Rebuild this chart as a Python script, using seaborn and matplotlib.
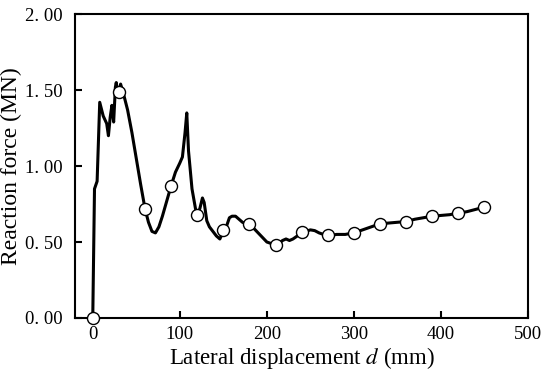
import numpy as np
import pandas as pd
import matplotlib
matplotlib.use("Agg")
import matplotlib.pyplot as plt
import seaborn as sns

# curve (mm, MN)
disp = [0, 2, 5, 8, 12, 16, 18, 20, 22, 24, 26, 27, 28, 30, 32, 36, 40, 45, 50,
        55, 60, 64, 68, 72, 76, 80, 85, 90, 95, 100, 103, 106, 108, 110, 114,
        118, 120, 123, 126, 128, 131, 134, 138, 142, 146, 150, 154, 157, 160,
        164, 168, 172, 176, 180, 185, 190, 195, 200, 205, 210, 214, 218, 222,
        226, 230, 235, 240, 245, 250, 255, 260, 265, 270, 275, 280, 285, 290,
        295, 300, 310, 320, 330, 340, 350, 360, 370, 380, 390, 400, 410, 420,
        430, 440, 450]
force = [0.0, 0.85, 0.90, 1.42, 1.33, 1.28, 1.20, 1.32, 1.40, 1.29, 1.52, 1.55,
         1.50, 1.49, 1.54, 1.46, 1.37, 1.22, 1.05, 0.88, 0.72, 0.63, 0.57, 0.56,
         0.60, 0.67, 0.77, 0.87, 0.96, 1.02, 1.06, 1.22, 1.35, 1.10, 0.85, 0.72,
         0.68, 0.72, 0.79, 0.76, 0.64, 0.60, 0.57, 0.54, 0.52, 0.57, 0.61, 0.66,
         0.67, 0.67, 0.65, 0.63, 0.62, 0.62, 0.59, 0.56, 0.53, 0.50, 0.49, 0.48,
         0.49, 0.51, 0.52, 0.51, 0.52, 0.54, 0.56, 0.57, 0.58, 0.575, 0.56, 0.55,
         0.545, 0.545, 0.55, 0.55, 0.55, 0.555, 0.56, 0.58, 0.60, 0.62, 0.625,
         0.63, 0.635, 0.65, 0.66, 0.67, 0.675, 0.68, 0.69, 0.70, 0.715, 0.73]

# circle markers every 30 mm
mark_disp = [0, 30, 60, 90, 120, 150, 180, 210, 240, 270, 300, 330, 360, 390, 420, 450]
mark_force = [0.0, 1.49, 0.72, 0.87, 0.68, 0.58, 0.62, 0.48, 0.565, 0.545,
              0.56, 0.62, 0.63, 0.67, 0.69, 0.73]

sns.set_style("white")
plt.rcParams["font.family"] = ["Liberation Serif", "DejaVu Serif"]
plt.rcParams["mathtext.fontset"] = "stix"
plt.rcParams["axes.labelcolor"] = "black"

fig, ax = plt.subplots(figsize=(5.5, 3.84), dpi=100)

curve = pd.DataFrame({"d": disp, "F": force})
marks = pd.DataFrame({"d": mark_disp, "F": mark_force})

sns.lineplot(data=curve, x="d", y="F", sort=False, color="black", lw=2.2, ax=ax)
sns.scatterplot(data=marks, x="d", y="F", s=75, color="white",
                edgecolor="black", linewidth=1, zorder=3, clip_on=False, ax=ax)

ax.set_xlim(-20, 500)
ax.set_ylim(0, 2)
ax.set_xticks([0, 100, 200, 300, 400, 500])
ax.set_yticks([0, 0.5, 1.0, 1.5, 2.0])
ax.set_yticklabels(["0. 00", "0. 50", "1. 00", "1. 50", "2. 00"])
ax.tick_params(direction="in", length=5, width=1.5, labelsize=13.5,
               colors="black", pad=6, bottom=True, left=True)
ax.tick_params(axis="y", pad=9)
for s in ax.spines.values():
    s.set_color("black")
    s.set_linewidth(1.5)

ax.set_xlabel("Lateral displacement $d$ (mm)", fontsize=16.5, labelpad=1,
              color="black")
ax.set_ylabel("Reaction force (MN)", fontsize=17, color="black")
ax.yaxis.set_label_coords(-0.117, 0.5)

fig.subplots_adjust(left=0.137, right=0.96, top=0.963, bottom=0.172)
fig.savefig("out.png", dpi=100)
